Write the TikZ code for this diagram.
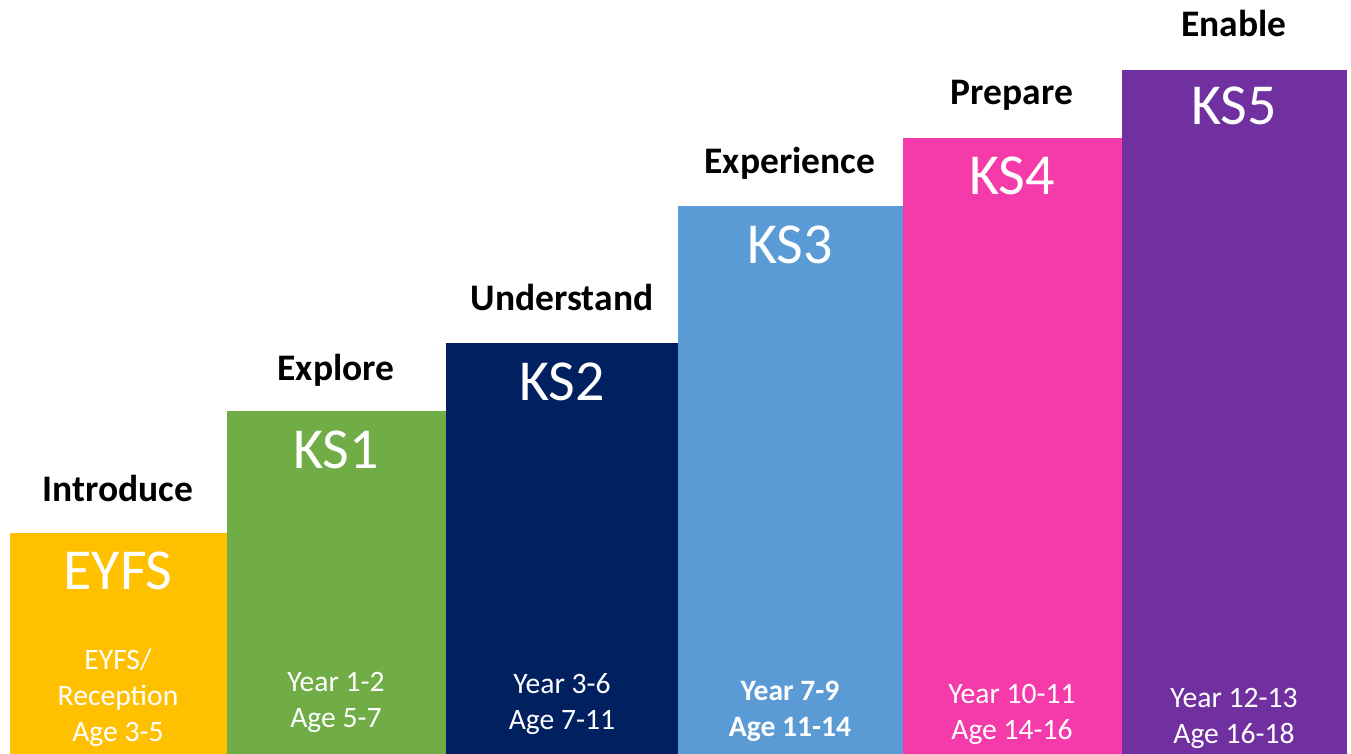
\documentclass[tikz,border=0pt]{standalone}
\usepackage{fontspec}
\setmainfont{Carlito}
\definecolor{cyellow}{HTML}{FFC000}
\definecolor{cgreen}{HTML}{70AD47}
\definecolor{cnavy}{HTML}{002060}
\definecolor{clblue}{HTML}{5B9BD5}
\definecolor{cpink}{HTML}{F53BA9}
\definecolor{cpurple}{HTML}{7030A0}
\begin{document}
\begin{tikzpicture}[x=1pt,y=-1pt,
  kslabel/.style={text=white,anchor=base,inner sep=0pt,font=\fontsize{58}{68}\selectfont},
  stage/.style={text=black,anchor=base,inner sep=0pt,font=\fontsize{37.5}{44}\selectfont\bfseries},
  ages/.style={text=white,anchor=base,inner sep=0pt,align=center,font=\fontsize{29.6}{36}\selectfont}]
\useasboundingbox (0,0) rectangle (1351,754);
% bars
\fill[cyellow] (10,533) rectangle (226.5,754);
\fill[cgreen] (226.5,411) rectangle (445.5,754);
\fill[cnavy] (445.5,343) rectangle (678,754);
\fill[clblue] (678,206) rectangle (903,754);
\fill[cpink] (903,138) rectangle (1122,754);
\fill[cpurple] (1122,70) rectangle (1347,754);
% stage words
\node[stage] (s0) at (118,501) {Introduce};
\node[stage] (s1) at (336,380) {Explore};
\node[stage] (s2) at (562,310) {Understand};
\node[stage] (s3) at (790,174) {Experience};
\node[stage] (s4) at (1012,105) {Prepare};
\node[stage] (s5) at (1234,37) {Enable};
% key stage labels
\node[kslabel] (k0) at (118,589) {EYFS};
\node[kslabel] (k1) at (336,468) {KS1};
\node[kslabel] (k2) at (562,400) {KS2};
\node[kslabel] (k3) at (790,263) {KS3};
\node[kslabel] (k4) at (1012,195) {KS4};
\node[kslabel] (k5) at (1234,125) {KS5};
% years / ages (anchor at last line's baseline)
\node[ages] (a0) at (118,741) {EYFS/\\Reception\\Age 3-5};
\node[ages] (a1) at (336,727) {Year 1-2\\Age 5-7};
\node[ages] (a2) at (562,729) {Year 3-6\\Age 7-11};
\node[ages,font=\fontsize{29.6}{36}\selectfont\bfseries] (a3) at (790,736) {Year 7-9\\Age 11-14};
\node[ages] (a4) at (1012,739) {Year 10-11\\Age 14-16};
\node[ages] (a5) at (1234,743) {Year 12-13\\Age 16-18};
\end{tikzpicture}
\end{document}
